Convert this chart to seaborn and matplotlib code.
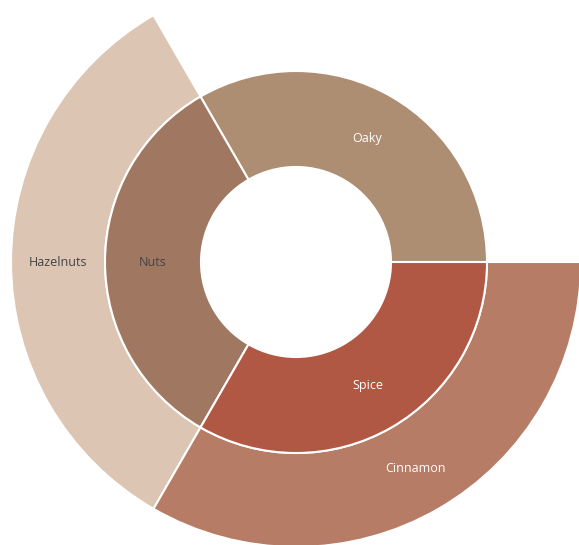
import matplotlib
matplotlib.use('Agg')
import matplotlib.pyplot as plt
import seaborn as sns

# data: inner ring (flavour groups) and outer ring (sub-flavours)
inner_labels = ['Oaky', 'Nuts', 'Spice']
inner_values = [1, 1, 1]
inner_colors = ['#ad8e73', '#a07862', '#b05843']
inner_text = ['white', '#444444', 'white']

outer_labels = ['', 'Hazelnuts', 'Cinnamon']
outer_values = [1, 1, 1]
outer_colors = ['none', '#dcc5b2', '#b77c65']
outer_text = ['white', '#444444', 'white']

sns.set_theme(style='white')
plt.rcParams['font.family'] = ['Open Sans', 'DejaVu Sans']

fig = plt.figure(figsize=(5.79, 5.45), dpi=100)
ax = fig.add_axes([0, 0, 1, 1])

r_hole, r_inner, r_outer = 95, 191, 285

w_out, t_out = ax.pie(outer_values, radius=r_outer, startangle=0, counterclock=True,
                      colors=outer_colors, labels=outer_labels,
                      labeldistance=(r_inner + r_outer) / 2 / r_outer,
                      wedgeprops=dict(width=r_outer - r_inner, edgecolor='white', linewidth=1.5),
                      textprops=dict(ha='center', va='center', fontsize=9))
w_out[0].set_edgecolor('none')

w_in, t_in = ax.pie(inner_values, radius=r_inner, startangle=0, counterclock=True,
                    colors=inner_colors, labels=inner_labels,
                    labeldistance=(r_hole + r_inner) / 2 / r_inner,
                    wedgeprops=dict(width=r_inner - r_hole, edgecolor='white', linewidth=1.5),
                    textprops=dict(ha='center', va='center', fontsize=9))

for t, c in zip(t_out, outer_text):
    t.set_color(c)
for t, c in zip(t_in, inner_text):
    t.set_color(c)

ax.set_xlim(-296, 283)
ax.set_ylim(-283, 262)
ax.set_aspect('equal')
ax.axis('off')

plt.savefig('out.png', dpi=100)
